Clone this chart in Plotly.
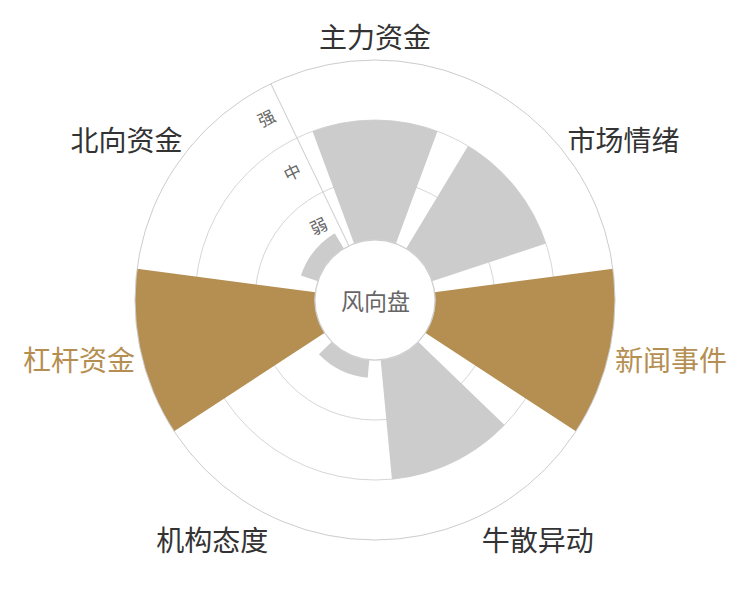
import plotly.graph_objects as go

categories = ["主力资金", "市场情绪", "新闻事件", "牛散异动", "机构态度", "杠杆资金", "北向资金"]
values = [2, 2, 3, 2, 0.3, 3, 0.3]
highlight = [False, False, True, False, False, True, False]
level_vals = [0.5, 1.5, 2.5]
level_text = ["弱", "中", "强"]
center_text = "风向盘"

GOLD = "#b58f52"
GRAY = "#cccccc"
FONT = "Noto Sans CJK SC"

n = len(categories)
step = 360 / n
theta = [i * step for i in range(n)]
colors = [GOLD if h else GRAY for h in highlight]
ticktext = [f'<span style="color:{GOLD}">{c}</span>' if h else c for c, h in zip(categories, highlight)]

fig = go.Figure()
fig.add_trace(go.Barpolar(r=values, theta=theta, width=[step * 0.79] * n,
                          marker=dict(color=colors, line=dict(width=0)),
                          subplot="polar", hoverinfo="skip"))
circ = [i for i in range(0, 361, 2)]
fig.add_trace(go.Scatterpolar(r=[0] * len(circ), theta=circ, mode="lines",
                              line=dict(color="#d6d6d6", width=1.2),
                              subplot="polar", cliponaxis=False, hoverinfo="skip"))

# page body has an 8px margin; shift the domain so the dial sits at (375, 300) on the page
dom = dict(x=[127 / 750, 607 / 750], y=[68 / 600, 548 / 600])
cx = (dom["x"][0] + dom["x"][1]) / 2
cy = (dom["y"][0] + dom["y"][1]) / 2
fig.update_layout(
    width=750, height=600,
    margin=dict(l=0, r=0, t=0, b=0),
    paper_bgcolor="white",
    showlegend=False,
    font=dict(family=FONT, color="#333333"),
    polar=dict(
        domain=dom, hole=0.25, bgcolor="white",
        angularaxis=dict(direction="clockwise", rotation=90, thetaunit="degrees",
                         tickmode="array", tickvals=theta, ticktext=ticktext,
                         showgrid=False, showline=True, linecolor="#cccccc", linewidth=1,
                         ticks="", tickfont=dict(size=28, color="#333333", family=FONT)),
        radialaxis=dict(range=[0, 3], angle=90 + step / 2, tickmode="array", tickvals=[1, 2, 3],
                        showticklabels=False, ticks="", showgrid=True, gridcolor="#d6d6d6",
                        gridwidth=1, showline=True, linecolor="#d0d0d0", linewidth=1,
                        layer="below traces"),
    ),
    polar2=dict(
        domain=dom, hole=0.25, bgcolor="rgba(0,0,0,0)",
        angularaxis=dict(visible=False, direction="clockwise", rotation=90),
        radialaxis=dict(range=[0, 3], angle=90 + step / 2, tickmode="array", tickvals=level_vals,
                        ticktext=level_text, showgrid=False, showline=False,
                        ticks="outside", ticklen=4, tickcolor="rgba(0,0,0,0)",
                        side="counterclockwise", tickangle=90,
                        tickfont=dict(size=17, color="#666666", family=FONT)),
    ),
    annotations=[dict(text=center_text, x=cx, y=cy, xref="paper", yref="paper",
                      showarrow=False, font=dict(size=23, color="#666666", family=FONT))],
)
fig.add_trace(go.Scatterpolar(r=[], theta=[], subplot="polar2", hoverinfo="skip"))

fig.write_html("out.html")
